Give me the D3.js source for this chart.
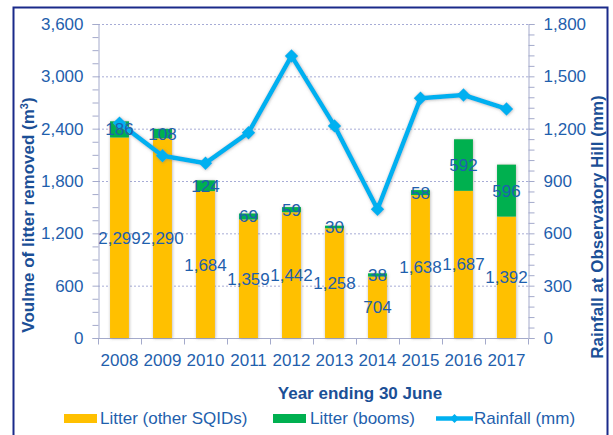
<!DOCTYPE html>
<html lang="en">
<head>
    <meta charset="UTF-8">
    <title>Litter removed and rainfall</title>
    <script src="https://d3js.org/d3.v7.min.js"></script>
    <style>
        body { margin: 0; background: #fff; font-family: Arial, "Liberation Sans", sans-serif; }
        text { font-family: Arial, "Liberation Sans", sans-serif; }
    </style>
</head>
<body>
    <svg width="613" height="435"></svg>
    <script>
        // data
        const years = ["2008", "2009", "2010", "2011", "2012", "2013", "2014", "2015", "2016", "2017"];
        const otherSqids = [2299, 2290, 1684, 1359, 1442, 1258, 704, 1638, 1687, 1392];
        const booms = [186, 108, 124, 69, 59, 30, 38, 58, 592, 596];
        const rainfall = [1232, 1045, 1002, 1177, 1617, 1216, 738, 1374, 1393, 1313];
        const leftTicks = [0, 600, 1200, 1800, 2400, 3000, 3600];
        const rightTicks = [0, 300, 600, 900, 1200, 1500, 1800];

        const svg = d3.select("svg");
        const tickColor = "#1F5FAD";
        const titleColor = "#1B4F96";
        const fmt = d3.format(",");

        const plot = { left: 98, right: 528, top: 24, bottom: 338 };

        // outer frame
        svg.append("rect")
            .attr("x", 13.5).attr("y", 7.5)
            .attr("width", 594).attr("height", 440)
            .attr("fill", "#fff")
            .attr("stroke", "#1A2A8A").attr("stroke-width", 2);

        const defs = svg.append("defs");
        defs.append("filter").attr("id", "glow")
            .attr("x", "-50%").attr("y", "-20%").attr("width", "200%").attr("height", "140%")
            .append("feDropShadow")
            .attr("dx", 0.5).attr("dy", 0.5).attr("stdDeviation", 1.6)
            .attr("flood-color", "#777").attr("flood-opacity", 0.55);

        const x = d3.scaleBand()
            .domain(years)
            .range([plot.left, plot.right])
            .paddingInner(0.56)
            .paddingOuter(0.28);

        const yL = d3.scaleLinear().domain([0, 3600]).range([plot.bottom, plot.top]);
        const yR = d3.scaleLinear().domain([0, 1800]).range([plot.bottom, plot.top]);

        // gridlines
        svg.append("g")
            .selectAll("line")
            .data(leftTicks.slice(1))
            .join("line")
            .attr("x1", plot.left).attr("x2", plot.right)
            .attr("y1", d => yL(d) + 0.5).attr("y2", d => yL(d) + 0.5)
            .attr("stroke", "#A7ACD6")
            .attr("stroke-dasharray", "2,2");

        // left axis, minor ticks every 150
        const leftAxis = d3.axisLeft(yL)
            .tickValues(d3.range(0, 3601, 150))
            .tickFormat(d => leftTicks.includes(d) ? fmt(d) : "")
            .tickSize(6).tickPadding(9);
        const gL = svg.append("g")
            .attr("transform", `translate(${plot.left + 0.5},0)`)
            .call(leftAxis);

        // right axis, minor ticks every 60
        const rightAxis = d3.axisRight(yR)
            .tickValues(d3.range(0, 1801, 60))
            .tickFormat(d => rightTicks.includes(d) ? fmt(d) : "")
            .tickSize(6).tickPadding(9);
        const gR = svg.append("g")
            .attr("transform", `translate(${plot.right + 0.5},0)`)
            .call(rightAxis);

        [gL, gR].forEach(g => {
            g.select(".domain").attr("stroke", "#A4AACB");
            g.selectAll(".tick line").attr("stroke", "#A4AACB");
            g.selectAll(".tick text")
                .attr("fill", tickColor)
                .style("font-size", "17px");
        });

        // bottom axis: ticks at category boundaries
        const gX = svg.append("g").attr("transform", `translate(0,${plot.bottom + 0.5})`);
        gX.append("line")
            .attr("x1", plot.left).attr("x2", plot.right)
            .attr("stroke", "#A4AACB");
        const step = x.step();
        gX.selectAll(".bt")
            .data(d3.range(years.length + 1))
            .join("line")
            .attr("class", "bt")
            .attr("x1", i => Math.round(plot.left + i * step) + 0.5)
            .attr("x2", i => Math.round(plot.left + i * step) + 0.5)
            .attr("y1", 0).attr("y2", 6)
            .attr("stroke", "#A4AACB");
        gX.selectAll(".yl")
            .data(years)
            .join("text")
            .attr("class", "yl")
            .attr("x", d => x(d) + x.bandwidth() / 2)
            .attr("y", 27.5)
            .attr("text-anchor", "middle")
            .attr("fill", tickColor)
            .style("font-size", "17px")
            .text(d => d);

        // stacked bars
        const rows = years.map((yr, i) => ({ yr, a: otherSqids[i], b: booms[i], r: rainfall[i] }));
        const bars = svg.append("g").attr("filter", "url(#glow)");
        bars.selectAll(".a")
            .data(rows)
            .join("rect")
            .attr("x", d => x(d.yr))
            .attr("width", x.bandwidth())
            .attr("y", d => yL(d.a))
            .attr("height", d => yL(0) - yL(d.a))
            .attr("fill", "#FFC000");
        bars.selectAll(".b")
            .data(rows)
            .join("rect")
            .attr("x", d => x(d.yr))
            .attr("width", x.bandwidth())
            .attr("y", d => yL(d.a + d.b))
            .attr("height", d => yL(d.a) - yL(d.a + d.b))
            .attr("fill", "#00B050");

        // rainfall line
        const line = d3.line()
            .x(d => x(d.yr) + x.bandwidth() / 2)
            .y(d => yR(d.r));
        const lineG = svg.append("g").attr("filter", "url(#glow)");
        lineG.append("path")
            .datum(rows)
            .attr("d", line)
            .attr("fill", "none")
            .attr("stroke", "#00B0F0")
            .attr("stroke-width", 4.5)
            .attr("stroke-linejoin", "round");
        lineG.selectAll(".m")
            .data(rows)
            .join("path")
            .attr("d", d3.symbol(d3.symbolSquare, 90))
            .attr("transform", d => `translate(${x(d.yr) + x.bandwidth() / 2},${yR(d.r)}) rotate(45)`)
            .attr("fill", "#00B0F0");

        // data labels
        const labels = svg.append("g")
            .attr("fill", tickColor)
            .attr("text-anchor", "middle")
            .style("font-size", "17px");
        labels.selectAll(".la")
            .data(rows)
            .join("text")
            .attr("x", d => x(d.yr) + x.bandwidth() / 2)
            .attr("y", d => (yL(0) + yL(d.a)) / 2 + 6)
            .text(d => fmt(d.a));
        labels.selectAll(".lb")
            .data(rows)
            .join("text")
            .attr("x", d => x(d.yr) + x.bandwidth() / 2)
            .attr("y", d => (yL(d.a) + yL(d.a + d.b)) / 2 + 6)
            .text(d => fmt(d.b));

        // axis titles
        svg.append("text")
            .attr("transform", "translate(34,215) rotate(-90)")
            .attr("text-anchor", "middle")
            .attr("fill", titleColor)
            .style("font-size", "17px").style("font-weight", "bold")
            .html("Voulme of litter removed (m<tspan dy='-6' style='font-size:11px'>3</tspan><tspan dy='6'>)</tspan>");
        svg.append("text")
            .attr("transform", "translate(603,227) rotate(-90)")
            .attr("text-anchor", "middle")
            .attr("fill", titleColor)
            .style("font-size", "17px").style("font-weight", "bold")
            .text("Rainfall at Observatory Hill (mm)");
        svg.append("text")
            .attr("x", 360).attr("y", 399)
            .attr("text-anchor", "middle")
            .attr("fill", titleColor)
            .style("font-size", "17px").style("font-weight", "bold")
            .text("Year ending 30 June");

        // legend
        const legend = svg.append("g").style("font-size", "17px").attr("fill", tickColor);
        legend.append("rect").attr("x", 64).attr("y", 414).attr("width", 33).attr("height", 9).attr("fill", "#FFC000");
        legend.append("text").attr("x", 100).attr("y", 424).text("Litter (other SQIDs)");
        legend.append("rect").attr("x", 273).attr("y", 414).attr("width", 33).attr("height", 9).attr("fill", "#00B050");
        legend.append("text").attr("x", 310).attr("y", 424).text("Litter (booms)");
        legend.append("line").attr("x1", 436).attr("x2", 473).attr("y1", 418.5).attr("y2", 418.5)
            .attr("stroke", "#00B0F0").attr("stroke-width", 4.5);
        legend.append("path")
            .attr("d", d3.symbol(d3.symbolSquare, 40))
            .attr("transform", "translate(454.5,418.5) rotate(45)")
            .attr("fill", "#00B0F0");
        legend.append("text").attr("x", 474).attr("y", 424).text("Rainfall (mm)");
    </script>
</body>
</html>
